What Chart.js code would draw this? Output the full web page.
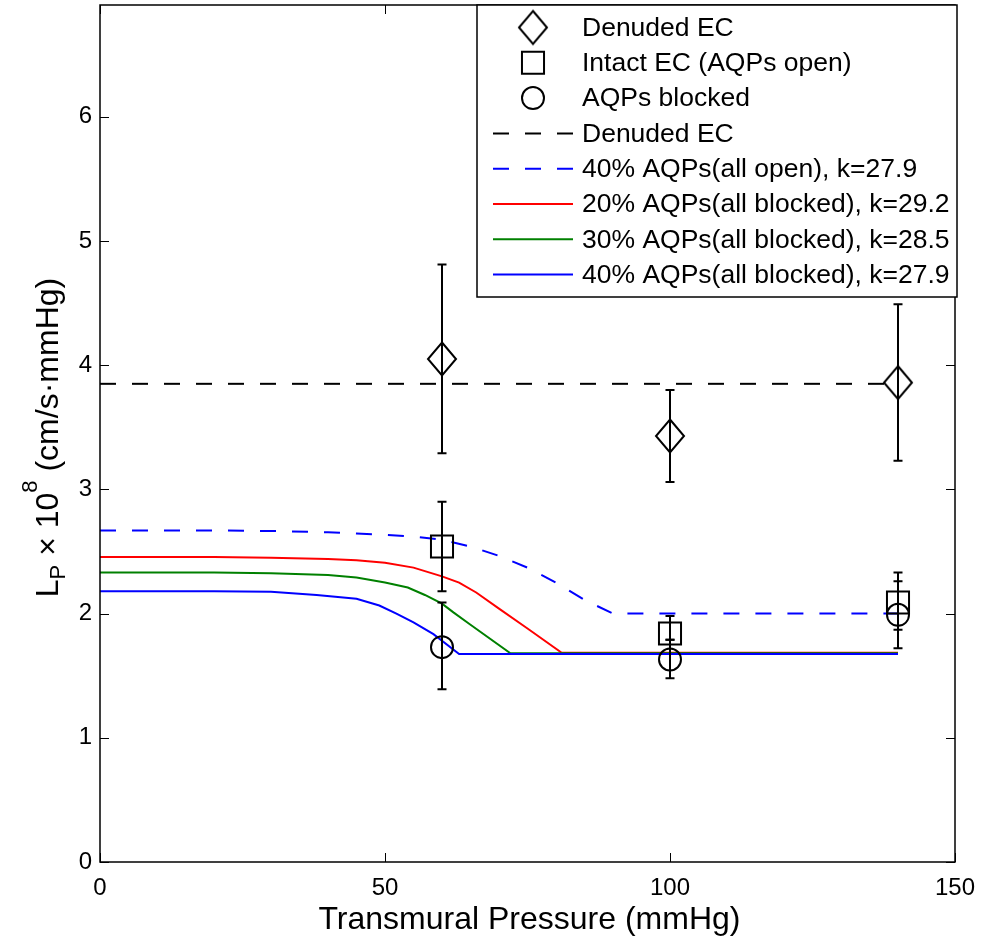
<!DOCTYPE html>
<html><head><meta charset="utf-8">
<script src="https://cdn.jsdelivr.net/npm/chart.js@4.4.1/dist/chart.umd.min.js"></script>
<style>html,body{margin:0;padding:0;background:#fff;}#wrap{width:982px;height:941px;}</style>
</head><body><div id="wrap"><canvas id="c" width="982" height="941"></canvas></div>
<script>
// ---- data ----
const pressures = [60, 100, 140];
const denudedLp = [4.05, 3.43, 3.86];
const denudedLo = [3.29, 3.06, 3.23];
const denudedHi = [4.81, 3.80, 4.49];
const intactLp = [2.54, 1.84, 2.09];
const intactLo = [2.18, 1.79, 1.87];
const intactHi = [2.90, 1.98, 2.26];
const blockedLp = [1.73, 1.63, 1.99];
const blockedLo = [1.39, 1.48, 1.72];
const blockedHi = [2.09, 1.79, 2.33];

const denudedFitX = [0, 140];
const denudedFitY = [3.85, 3.85];
const open40X = [0, 10, 20, 30, 40, 45, 50, 55, 60, 65, 70, 75, 80, 85, 90, 140];
const open40Y = [2.67, 2.67, 2.67, 2.665, 2.655, 2.645, 2.635, 2.62, 2.595, 2.54, 2.465, 2.37, 2.25, 2.11, 2.0, 2.0];
const blocked20X = [0, 10, 20, 30, 40, 45, 50, 55, 60, 63, 66, 70, 75, 81, 140];
const blocked20Y = [2.455, 2.455, 2.455, 2.45, 2.44, 2.43, 2.41, 2.37, 2.30, 2.25, 2.17, 2.04, 1.88, 1.685, 1.685];
const blocked30X = [0, 10, 20, 30, 40, 45, 50, 54, 57, 60, 62, 65, 72, 140];
const blocked30Y = [2.33, 2.33, 2.33, 2.325, 2.31, 2.29, 2.25, 2.21, 2.15, 2.08, 2.01, 1.91, 1.68, 1.68];
const blocked40X = [0, 10, 20, 30, 38, 45, 49, 52, 55, 58.5, 63, 140];
const blocked40Y = [2.18, 2.18, 2.18, 2.175, 2.15, 2.12, 2.065, 2.0, 1.93, 1.835, 1.675, 1.675];

const xTicks = [0, 50, 100, 150];
const yTicks = [0, 1, 2, 3, 4, 5, 6];
const xTitle = 'Transmural Pressure (mmHg)';
const legendLabels = ['Denuded EC', 'Intact EC (AQPs open)', 'AQPs blocked', 'Denuded EC',
  '40% AQPs(all open), k=27.9', '20% AQPs(all blocked), k=29.2', '30% AQPs(all blocked), k=28.5', '40% AQPs(all blocked), k=27.9'];

const FONT = "'Liberation Sans', Arial, Helvetica, sans-serif";
const zip = (xs, ys) => xs.map((x, i) => ({x: x, y: ys[i]}));

// diamond marker as a canvas point style
const diamond = document.createElement('canvas');
diamond.width = 34; diamond.height = 40;
(function(){
  const g = diamond.getContext('2d');
  g.strokeStyle = '#000'; g.lineWidth = 2;
  g.beginPath();
  g.moveTo(17, 3.5); g.lineTo(31, 20); g.lineTo(17, 36.5); g.lineTo(3, 20); g.closePath();
  g.stroke();
})();

function pointSet(label, xs, ys, style, radius, lg, lo, hi) {
  return {label: label, data: zip(xs, ys), showLine: false, pointStyle: style, pointRadius: radius,
    pointBorderWidth: 2, pointBorderColor: '#000', pointBackgroundColor: 'rgba(0,0,0,0)',
    borderColor: '#000', order: 0, legendIndex: lg, errLo: lo, errHi: hi};
}
function lineSet(label, xs, ys, color, dash, order, lg) {
  return {label: label, data: zip(xs, ys), showLine: true, borderColor: color, borderWidth: 2,
    borderDash: dash, pointRadius: 0, tension: 0, fill: false, order: order, legendIndex: lg};
}

const datasets = [
  pointSet(legendLabels[0], pressures, denudedLp, diamond, 16, 0, denudedLo, denudedHi),
  pointSet(legendLabels[1], pressures, intactLp, 'rect', 15.6, 1, intactLo, intactHi),
  pointSet(legendLabels[2], pressures, blockedLp, 'circle', 11, 2, blockedLo, blockedHi),
  lineSet(legendLabels[3], denudedFitX, denudedFitY, '#000', [16, 16], 5, 3),
  lineSet(legendLabels[4], open40X, open40Y, '#0000ff', [16, 16], 4, 4),
  lineSet(legendLabels[5], blocked20X, blocked20Y, '#ff0000', [], 3, 5),
  lineSet(legendLabels[6], blocked30X, blocked30Y, '#008000', [], 2, 6),
  lineSet(legendLabels[7], blocked40X, blocked40Y, '#0000ff', [], 1, 7),
];

const decor = {
  id: 'decor',
  afterDatasetsDraw(chart) {
    const ctx = chart.ctx, xs = chart.scales.x, ys = chart.scales.y;
    ctx.save();
    ctx.strokeStyle = '#000'; ctx.lineWidth = 2; ctx.setLineDash([]);
    chart.data.datasets.forEach(ds => {
      if (!ds.errLo) return;
      ds.data.forEach((p, i) => {
        const px = xs.getPixelForValue(p.x);
        const pl = ys.getPixelForValue(ds.errLo[i]);
        const ph = ys.getPixelForValue(ds.errHi[i]);
        ctx.beginPath();
        ctx.moveTo(px, pl); ctx.lineTo(px, ph);
        ctx.moveTo(px - 4.5, pl); ctx.lineTo(px + 4.5, pl);
        ctx.moveTo(px - 4.5, ph); ctx.lineTo(px + 4.5, ph);
        ctx.stroke();
      });
    });
    ctx.restore();
  },
  afterDraw(chart) {
    const ctx = chart.ctx, xs = chart.scales.x, ys = chart.scales.y, a = chart.chartArea;
    ctx.save();
    ctx.strokeStyle = '#000'; ctx.lineWidth = 1.5; ctx.setLineDash([]);
    ctx.strokeRect(a.left, a.top, a.right - a.left, a.bottom - a.top);
    ctx.lineWidth = 1;
    ctx.beginPath();
    xTicks.forEach(v => {
      const px = Math.round(xs.getPixelForValue(v)) + 0.5;
      ctx.moveTo(px, a.bottom); ctx.lineTo(px, a.bottom - 9);
      ctx.moveTo(px, a.top); ctx.lineTo(px, a.top + 9);
    });
    yTicks.forEach(v => {
      const py = Math.round(ys.getPixelForValue(v)) + 0.5;
      ctx.moveTo(a.left, py); ctx.lineTo(a.left + 9, py);
      ctx.moveTo(a.right, py); ctx.lineTo(a.right - 9, py);
    });
    ctx.stroke();

    // legend
    const L = {x0: 477, y0: 5, x1: 957, y1: 297};
    ctx.fillStyle = '#fff';
    ctx.fillRect(L.x0, L.y0, L.x1 - L.x0, L.y1 - L.y0);
    ctx.strokeStyle = '#000'; ctx.lineWidth = 1.5;
    ctx.strokeRect(L.x0, L.y0, L.x1 - L.x0, L.y1 - L.y0);
    const items = chart.data.datasets.slice().sort((p, q) => p.legendIndex - q.legendIndex);
    items.forEach((ds, i) => {
      const cy = 27.5 + 35.3 * i;
      if (ds.showLine) {
        ctx.strokeStyle = ds.borderColor; ctx.lineWidth = 2;
        ctx.setLineDash(ds.borderDash || []);
        ctx.beginPath(); ctx.moveTo(493, cy); ctx.lineTo(573, cy); ctx.stroke();
        ctx.setLineDash([]);
      } else {
        ctx.strokeStyle = '#000'; ctx.fillStyle = 'rgba(0,0,0,0)'; ctx.lineWidth = 2;
        Chart.helpers.drawPoint(ctx, {pointStyle: ds.pointStyle, radius: ds.pointRadius, borderWidth: 2, rotation: 0}, 533, cy);
      }
      ctx.fillStyle = '#000';
      ctx.font = '26.5px ' + FONT;
      ctx.textAlign = 'left'; ctx.textBaseline = 'middle';
      ctx.fillText(ds.label, 582, cy + 1);
    });

    // x title
    ctx.fillStyle = '#000';
    ctx.font = '32px ' + FONT;
    ctx.textAlign = 'center'; ctx.textBaseline = 'alphabetic';
    ctx.fillText(xTitle, (a.left + a.right) / 2 + 2, 929);

    // y title with sub/superscript
    const parts = [
      {t: 'L', s: 32, dy: 0},
      {t: 'P', s: 22, dy: 7},
      {t: ' \u00d7 10', s: 32, dy: 0},
      {t: '8', s: 22, dy: -21},
      {t: ' (cm/s\u00b7mmHg)', s: 32, dy: 0},
    ];
    let total = 0;
    parts.forEach(p => { ctx.font = p.s + 'px ' + FONT; p.w = ctx.measureText(p.t).width; total += p.w; });
    ctx.translate(58, (a.top + a.bottom) / 2 + 4);
    ctx.rotate(-Math.PI / 2);
    ctx.textAlign = 'left';
    let cx = -total / 2;
    parts.forEach(p => { ctx.font = p.s + 'px ' + FONT; ctx.fillText(p.t, cx, p.dy); cx += p.w; });
    ctx.restore();
  }
};

function noPad(s) { s.paddingLeft = 0; s.paddingRight = 0; s.paddingTop = 0; s.paddingBottom = 0; }

new Chart(document.getElementById('c'), {
  type: 'scatter',
  data: {datasets: datasets},
  options: {
    responsive: false, animation: false, devicePixelRatio: 1,
    layout: {autoPadding: false, padding: {top: 5, right: 27, left: 0, bottom: 0}},
    plugins: {legend: {display: false}, tooltip: {enabled: false}},
    scales: {
      x: {type: 'linear', min: 0, max: 150,
        afterBuildTicks: s => { s.ticks = xTicks.map(v => ({value: v})); },
        afterFit: s => { s.height = 79; noPad(s); },
        grid: {display: false, drawTicks: false}, border: {display: false},
        ticks: {color: '#000', padding: 12, maxRotation: 0, font: {family: FONT, size: 24}}},
      y: {type: 'linear', min: 0, max: 6.9,
        afterBuildTicks: s => { s.ticks = yTicks.map(v => ({value: v})); },
        afterFit: s => { s.width = 100; noPad(s); },
        grid: {display: false, drawTicks: false}, border: {display: false},
        ticks: {color: '#000', padding: 8, font: {family: FONT, size: 24}}}
    }
  },
  plugins: [decor]
});
</script></body></html>
